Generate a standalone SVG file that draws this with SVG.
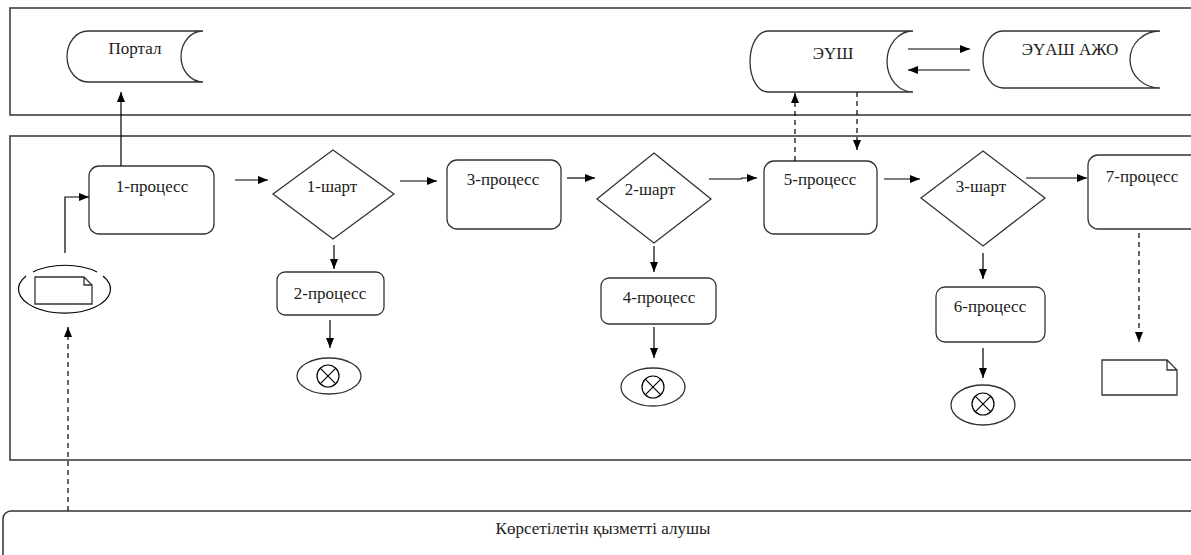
<svg xmlns="http://www.w3.org/2000/svg" width="1191" height="555" viewBox="0 0 1191 555">
<defs>
<style>
.lane{fill:none;stroke:#333;stroke-width:1.5}
.box{fill:#fff;stroke:#333;stroke-width:1.3}
.ln{fill:none;stroke:#000;stroke-width:1.2}
.dash{stroke-dasharray:5 4}
.t{font-family:'Liberation Serif','Times New Roman',serif;font-size:17px;fill:#222;text-anchor:middle}
</style>
<marker id="ah" viewBox="0 0 10 8" refX="10" refY="4" markerWidth="10" markerHeight="8" markerUnits="userSpaceOnUse" orient="auto">
<path d="M0,0 L10,4 L0,8 Z" fill="#000"/>
</marker>
</defs>
<rect width="1191" height="555" fill="#fff"/>
<g id="lanes">
<rect class="lane" x="10" y="8" width="1200" height="107"/>
<rect class="lane" x="10" y="136" width="1200" height="324"/>
<rect class="lane" x="3" y="511" width="1220" height="70" rx="8"/>
<text class="t" x="603" y="534">Көрсетілетін қызметті алушы</text>
</g>
<g id="portal">
<path class="box" d="M88,31 H203 A22,25.5 0 0 0 203,82 H88 A21,25.5 0 0 1 88,31 Z"/>
<text class="t" x="135" y="54">Портал</text>
</g>
<g id="eush">
<path class="box" d="M768,31 H913 A26,30.5 0 0 0 913,92 H768 A18,30.5 0 0 1 768,31 Z"/>
<text class="t" x="833" y="59">ЭҮШ</text>
</g>
<g id="euash">
<path class="box" d="M1003,31 H1160 A30,28.5 0 0 0 1160,88 H1003 A20,28.5 0 0 1 1003,31 Z"/>
<text class="t" x="1070" y="55">ЭҮАШ АЖО</text>
</g>
<g id="start">
<path class="ln" d="M33,272 A46,24 0 0 1 97,272 M103,276 A46,24 0 1 1 26,276"/>
<path class="box" d="M35,277 H84 L92,285 V304 H35 Z M84,277 V285 H92"/>
</g>
<g id="p1">
<rect class="box" x="89" y="166" width="125" height="68" rx="10"/>
<text class="t" x="152" y="192">1-процесс</text>
</g>
<g id="c1">
<polygon class="box" points="333,150 394,194 333,239 273,194"/>
<text class="t" x="332" y="192">1-шарт</text>
</g>
<g id="p2">
<rect class="box" x="277" y="272" width="107" height="43" rx="8"/>
<text class="t" x="330" y="299">2-процесс</text>
</g>
<g id="e1">
<ellipse class="box" cx="329" cy="376" rx="32" ry="18"/>
<circle class="ln" cx="328" cy="376" r="11"/>
<path class="ln" d="M320.2,368.2 L335.8,383.8 M335.8,368.2 L320.2,383.8"/>
</g>
<g id="p3">
<rect class="box" x="447" y="160" width="114" height="69" rx="10"/>
<text class="t" x="503" y="185">3-процесс</text>
</g>
<g id="c2">
<polygon class="box" points="654,153 711,199 654,243 597,199"/>
<text class="t" x="650" y="195">2-шарт</text>
</g>
<g id="p4">
<rect class="box" x="601" y="278" width="115" height="46" rx="8"/>
<text class="t" x="659" y="303">4-процесс</text>
</g>
<g id="e2">
<ellipse class="box" cx="653" cy="387" rx="32" ry="19"/>
<circle class="ln" cx="653" cy="387" r="11"/>
<path class="ln" d="M645.2,379.2 L660.8,394.8 M660.8,379.2 L645.2,394.8"/>
</g>
<g id="p5">
<rect class="box" x="764" y="161" width="113" height="73" rx="10"/>
<text class="t" x="820" y="185">5-процесс</text>
</g>
<g id="c3">
<polygon class="box" points="983,151 1045,198 983,246 921,198"/>
<text class="t" x="981" y="192">3-шарт</text>
</g>
<g id="p6">
<rect class="box" x="936" y="287" width="109" height="55" rx="9"/>
<text class="t" x="990" y="312">6-процесс</text>
</g>
<g id="e3">
<ellipse class="box" cx="983" cy="405" rx="32" ry="20"/>
<circle class="ln" cx="983" cy="404" r="11"/>
<path class="ln" d="M975.2,396.2 L990.8,411.8 M990.8,396.2 L975.2,411.8"/>
</g>
<g id="p7">
<rect class="box" x="1088" y="155" width="120" height="74" rx="10"/>
<text class="t" x="1142" y="182">7-процесс</text>
</g>
<g id="doc">
<path class="box" d="M1102,360 H1167 L1177,370 V395 H1102 Z M1167,360 V370 H1177"/>
</g>
<g id="connectors">
<path class="ln" d="M121,166 V92" marker-end="url(#ah)"/>
<path class="ln" d="M65,253 V197 H89" marker-end="url(#ah)"/>
<path class="ln dash" d="M68,511 V327" marker-end="url(#ah)"/>
<path class="ln" d="M235,180 H268" marker-end="url(#ah)"/>
<path class="ln" d="M400,181 H437" marker-end="url(#ah)"/>
<path class="ln" d="M334,245 V269" marker-end="url(#ah)"/>
<path class="ln" d="M330,320 V348" marker-end="url(#ah)"/>
<path class="ln" d="M567,178 H595" marker-end="url(#ah)"/>
<path class="ln" d="M709,179 H741 L742,178 H757" marker-end="url(#ah)"/>
<path class="ln" d="M654,246 V272" marker-end="url(#ah)"/>
<path class="ln" d="M654,327 V358" marker-end="url(#ah)"/>
<path class="ln" d="M884,179 H920" marker-end="url(#ah)"/>
<path class="ln" d="M1026,178 H1087" marker-end="url(#ah)"/>
<path class="ln" d="M983,253 V279" marker-end="url(#ah)"/>
<path class="ln" d="M983,348 V378" marker-end="url(#ah)"/>
<path class="ln dash" d="M1139,233 V342" marker-end="url(#ah)"/>
<path class="ln dash" d="M795,161 V93" marker-end="url(#ah)"/>
<path class="ln dash" d="M857,92 V150" marker-end="url(#ah)"/>
<path class="ln" d="M908,49 H970" marker-end="url(#ah)"/>
<path class="ln" d="M970,70 H908" marker-end="url(#ah)"/>
</g>
</svg>
